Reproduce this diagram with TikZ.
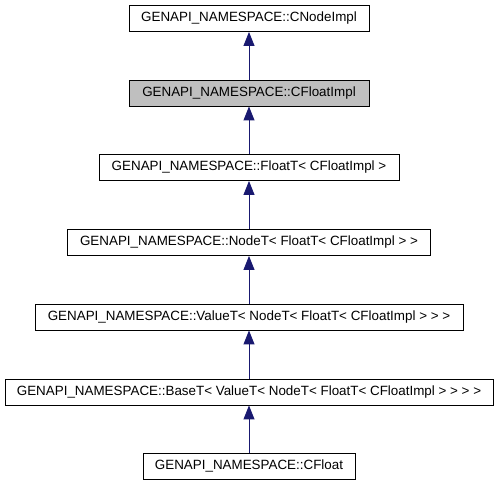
\documentclass[tikz,border=0pt]{standalone}
\usepackage{fontspec}
\setmainfont{Liberation Sans}
\usetikzlibrary{arrows.meta}
\definecolor{edgeblue}{HTML}{191970}
\definecolor{hilite}{HTML}{BFBFBF}
\tikzset{
  cls/.style={draw=black, line width=0.9pt, fill=white, inner sep=0pt, minimum height=26pt,
    font=\fontsize{13.4}{15}\selectfont, anchor=center},
  cur/.style={cls, fill=hilite},
  inh/.style={draw=edgeblue, line width=1pt, -{Triangle[length=14pt,width=11pt]}, fill=edgeblue}
}
\begin{document}
\begin{tikzpicture}[x=1pt,y=1pt]
\useasboundingbox (0,0) rectangle (499,-485);
\node[cls, minimum width=240pt] (n1) at (249,-18.5) {GENAPI\_NAMESPACE::CNodeImpl};
\node[cur, minimum width=240pt] (n2) at (249,-93) {GENAPI\_NAMESPACE::CFloatImpl};
\node[cls, minimum width=300pt] (n3) at (249,-167.5) {GENAPI\_NAMESPACE::FloatT< CFloatImpl >};
\node[cls, minimum width=363pt] (n4) at (249,-242.5) {GENAPI\_NAMESPACE::NodeT< FloatT< CFloatImpl > >};
\node[cls, minimum width=428pt] (n5) at (249,-317) {GENAPI\_NAMESPACE::ValueT< NodeT< FloatT< CFloatImpl > > >};
\node[cls, minimum width=488pt] (n6) at (249,-392) {GENAPI\_NAMESPACE::BaseT< ValueT< NodeT< FloatT< CFloatImpl > > > >};
\node[cls, minimum width=212pt] (n7) at (249,-466) {GENAPI\_NAMESPACE::CFloat};
\draw[inh] (n2.north) -- (n1.south);
\draw[inh] (n3.north) -- (n2.south);
\draw[inh] (n4.north) -- (n3.south);
\draw[inh] (n5.north) -- (n4.south);
\draw[inh] (n6.north) -- (n5.south);
\draw[inh] (n7.north) -- (n6.south);
\end{tikzpicture}
\end{document}
